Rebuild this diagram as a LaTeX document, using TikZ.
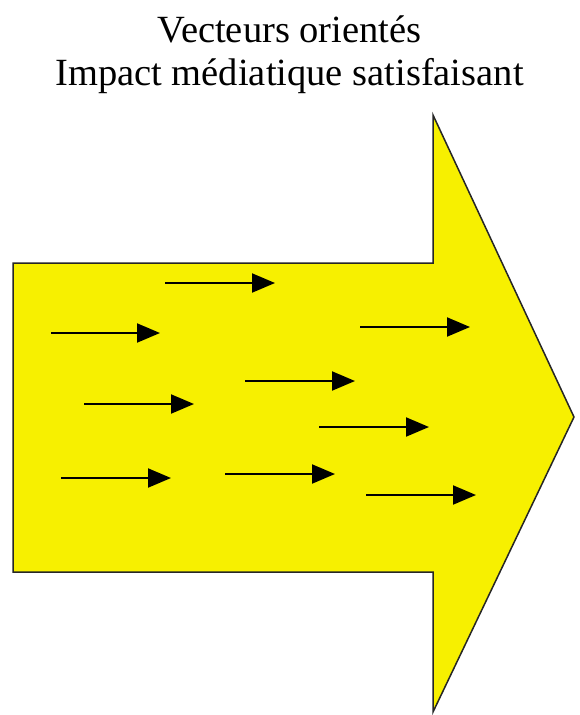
\documentclass[tikz,border=0pt]{standalone}
\usepackage{fontspec}
\setmainfont{Liberation Serif}
\usetikzlibrary{arrows.meta}
\definecolor{arrowyellow}{RGB}{247,240,0}
\tikzset{
  bigarrow/.style={draw=black!85, line width=1.5pt, fill=arrowyellow, line join=miter},
  vec/.style={line width=2pt, -{Triangle[length=23pt,width=19pt]}},
  titletext/.style={align=center, font=\fontsize{38.5}{43}\selectfont, inner sep=0pt}
}
\begin{document}
\begin{tikzpicture}[x=1pt,y=-1pt]
\useasboundingbox (0,0) rectangle (579,715);
\node[titletext] (title) at (289.5,55) {Vecteurs orientés\\Impact médiatique satisfaisant};
\draw[bigarrow] (13,263) -- (433,263) -- (433,115) -- (574,417) -- (433,712) -- (433,572) -- (13,572) -- cycle;
\foreach \n/\xa/\xb/\y in {a/165/275/283, b/51/160/333, c/360/470/327, d/245/355/381, e/84/194/404, f/319/429/427, g/61/171/478, h/225/335/474, i/366/476/495} {
  \coordinate (s\n) at (\xa,\y);
  \coordinate (t\n) at (\xb,\y);
  \draw[vec] (s\n) -- (t\n);
}
\end{tikzpicture}
\end{document}
